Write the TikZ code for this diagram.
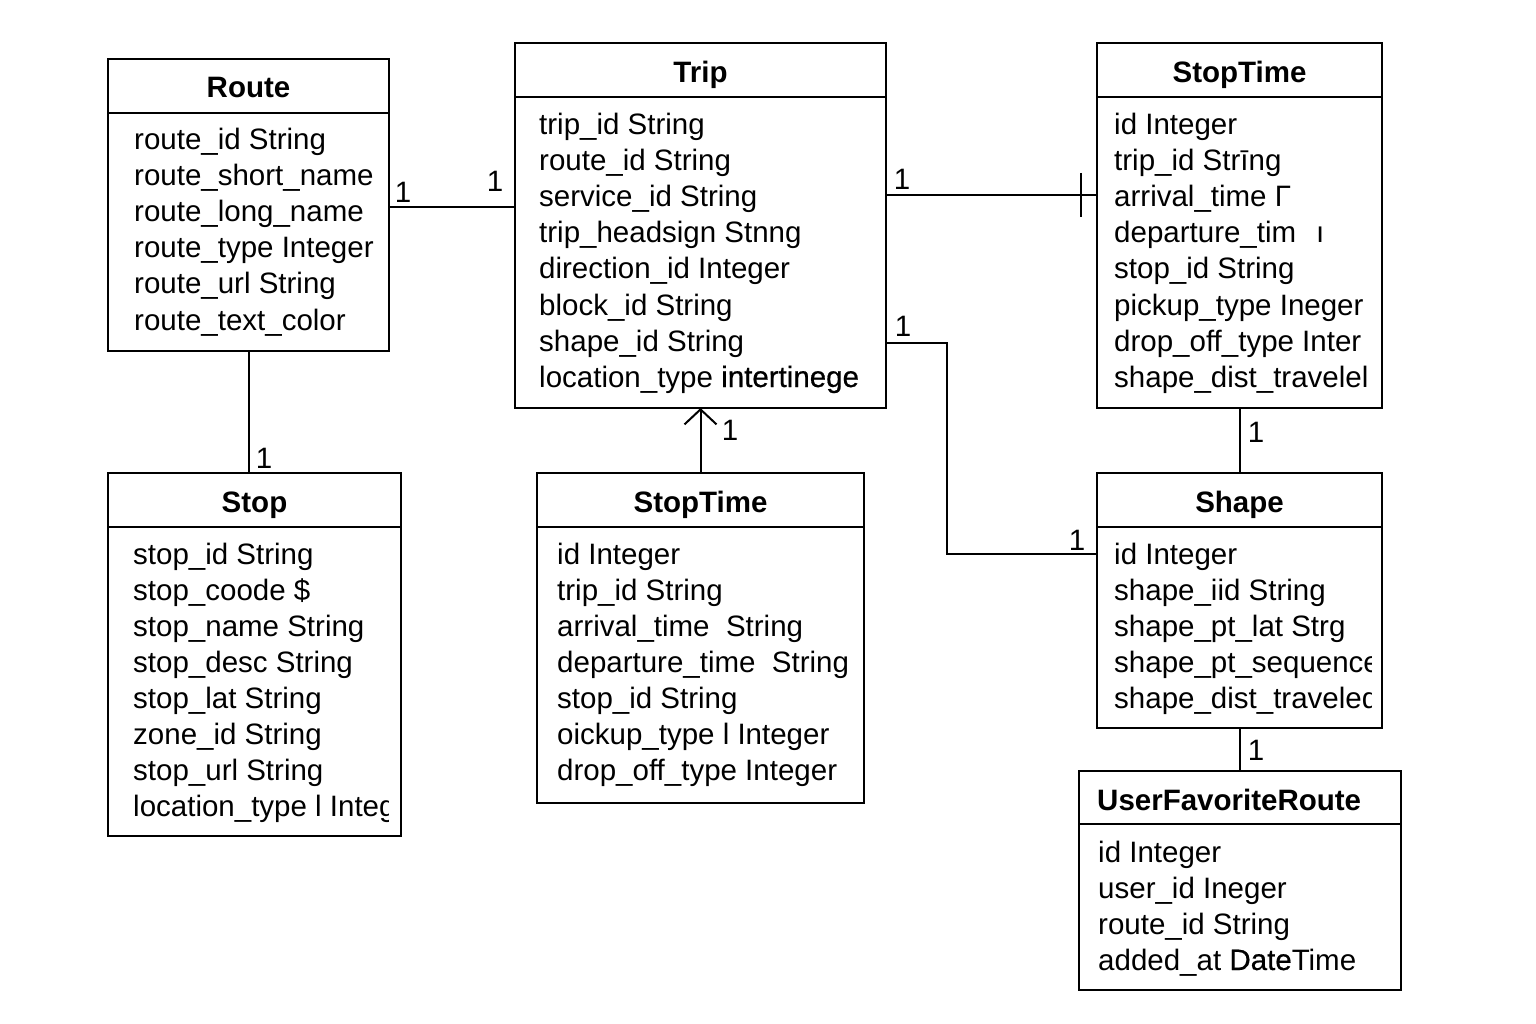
\documentclass[tikz,border=0pt]{standalone}
\usepackage{fontspec}
\setmainfont{Liberation Sans}
\newfontfamily\mysemib[FakeBold=0.6]{Liberation Sans}
\usetikzlibrary{arrows.meta,calc}
\newcommand\myattrfont{\fontsize{29.5}{36}\selectfont}
\newcommand\mytitlefont{\fontsize{29.5}{36}\selectfont\bfseries}
\begin{document}
\begin{tikzpicture}[x=1pt,y=-1pt,
  box/.style={draw,line width=2.2pt,anchor=north west,inner sep=0pt,outer sep=0pt},
  divider/.style={line width=2.2pt},
  attr/.style={anchor=base west,inner sep=0pt,font=\myattrfont},
  ttl/.style={anchor=base,inner sep=0pt,font=\mytitlefont},
  conn/.style={line width=2pt},
  card/.style={inner sep=0pt,font=\myattrfont}]
\useasboundingbox[fill=white] (0,0) rectangle (1536,1024);

% ---------- Route ----------
\node[box,minimum width=281pt,minimum height=292pt] (route) at (108,59) {};
\draw[divider] (route.west |- 0,113) -- (route.east |- 0,113);
\node[ttl] (route-t) at ($(route.north)+(0,39)$) {Route};
\foreach \t [count=\i] in {route\_id String,route\_short\_name,route\_long\_name,route\_type Integer,route\_url String,route\_text\_color}
  \node[attr] (route-a\i) at (134,{150+36*(\i-1)}) {\t};

% ---------- Trip ----------
\node[box,minimum width=371pt,minimum height=365pt] (trip) at (515,43) {};
\draw[divider] (trip.west |- 0,97) -- (trip.east |- 0,97);
\node[ttl] (trip-t) at ($(trip.north)+(0,40)$) {Trip};
\foreach \t [count=\i] in {trip\_id String,route\_id String,service\_id String,trip\_headsign Stnng,direction\_id Integer,block\_id String,shape\_id String,location\_type {\mysemib intertinege}}
  \node[attr] (trip-a\i) at (539,{135+36*(\i-1)}) {\t};

% ---------- StopTime (right) ----------
\node[box,minimum width=285pt,minimum height=365pt] (st1) at (1097,43) {};
\draw[divider] (st1.west |- 0,97) -- (st1.east |- 0,97);
\node[ttl] (st1-t) at ($(st1.north)+(0,40)$) {StopTime};
\foreach \t [count=\i] in {id Integer,trip\_id Strīng,arrival\_time Γ,departure\_tim\hspace{20pt}ı,stop\_id String,pickup\_type Ineger,drop\_off\_type Inter,shape\_dist\_travelel}
  \node[attr] (st1-a\i) at (1114,{135+36*(\i-1)}) {\t};

% ---------- Stop ----------
\node[box,minimum width=293pt,minimum height=363pt] (stop) at (108,473) {};
\draw[divider] (stop.west |- 0,527) -- (stop.east |- 0,527);
\node[ttl] (stop-t) at ($(stop.north)+(0,39)$) {Stop};
\begin{scope}
\clip (110,530) rectangle (388,834);
\foreach \t [count=\i] in {stop\_id String,stop\_coode \$,stop\_name String,stop\_desc String,stop\_lat String,zone\_id String,stop\_url String,location\_type l Integer}
  \node[attr] (stop-a\i) at (133,{564+36*(\i-1)}) {\t};
\end{scope}

% ---------- StopTime (middle) ----------
\node[box,minimum width=327pt,minimum height=330pt] (st2) at (537,473) {};
\draw[divider] (st2.west |- 0,527) -- (st2.east |- 0,527);
\node[ttl] (st2-t) at ($(st2.north)+(0,39)$) {StopTime};
\foreach \t [count=\i] in {id Integer,trip\_id String,arrival\_time\ \ String,departure\_time\ \ String,stop\_id String,oickup\_type l Integer,drop\_off\_type Integer}
  \node[attr] (st2-a\i) at (557,{564+36*(\i-1)}) {\t};

% ---------- Shape ----------
\node[box,minimum width=285pt,minimum height=255pt] (shape) at (1097,473) {};
\draw[divider] (shape.west |- 0,527) -- (shape.east |- 0,527);
\node[ttl] (shape-t) at ($(shape.north)+(0,39)$) {Shape};
\begin{scope}
\clip (1100,530) rectangle (1371,726);
\foreach \t [count=\i] in {id Integer,shape\_iid String,shape\_pt\_lat Strg,shape\_pt\_sequence,shape\_dist\_traveled}
  \node[attr] (shape-a\i) at (1114,{564+36*(\i-1)}) {\t};
\end{scope}

% ---------- UserFavoriteRoute ----------
\node[box,minimum width=322pt,minimum height=219pt] (ufr) at (1079,771) {};
\draw[divider] (ufr.west |- 0,824) -- (ufr.east |- 0,824);
\node[ttl,anchor=base west] (ufr-t) at (1097,810) {UserFavoriteRoute};
\foreach \t [count=\i] in {id Integer,user\_id Ineger,route\_id String,added\_at {\mysemib Date}Time}
  \node[attr] (ufr-a\i) at (1098,{862+36*(\i-1)}) {\t};

% ---------- Connectors ----------
\draw[conn] (route.east |- 0,207) -- (trip.west |- 0,207);
\node[card] (c1) at (403,192) {1};
\node[card] (c2) at (495,181) {1};

\draw[conn] (route.south) -- (route.south |- stop.north);
\node[card] (c3) at (264,458) {1};

\draw[conn] (trip.east |- 0,195) -- (st1.west |- 0,195);
\coordinate (tick) at ($(st1.west |- 0,173)+(-16,0)$);
\draw[conn] (tick) -- ++(0,44);
\node[card] (c4) at (902,179) {1};

\coordinate (bend) at (947,554);
\draw[conn] (trip.east |- 0,343) -| (bend) -- (shape.west |- bend);
\node[card] (c5) at (903,326) {1};
\node[card] (c6) at (1077,540) {1};

\draw[conn,-{Straight Barb[length=15pt,width=32pt,line width=2pt]}] (st2.north) -- (st2.north |- trip.south);
\node[card] (c7) at (730,430) {1};

\draw[conn] (st1.south) -- (st1.south |- shape.north);
\node[card] (c8) at (1256,432) {1};

\draw[conn] (shape.south) -- (shape.south |- ufr.north);
\node[card] (c9) at (1256,750) {1};
\end{tikzpicture}
\end{document}
